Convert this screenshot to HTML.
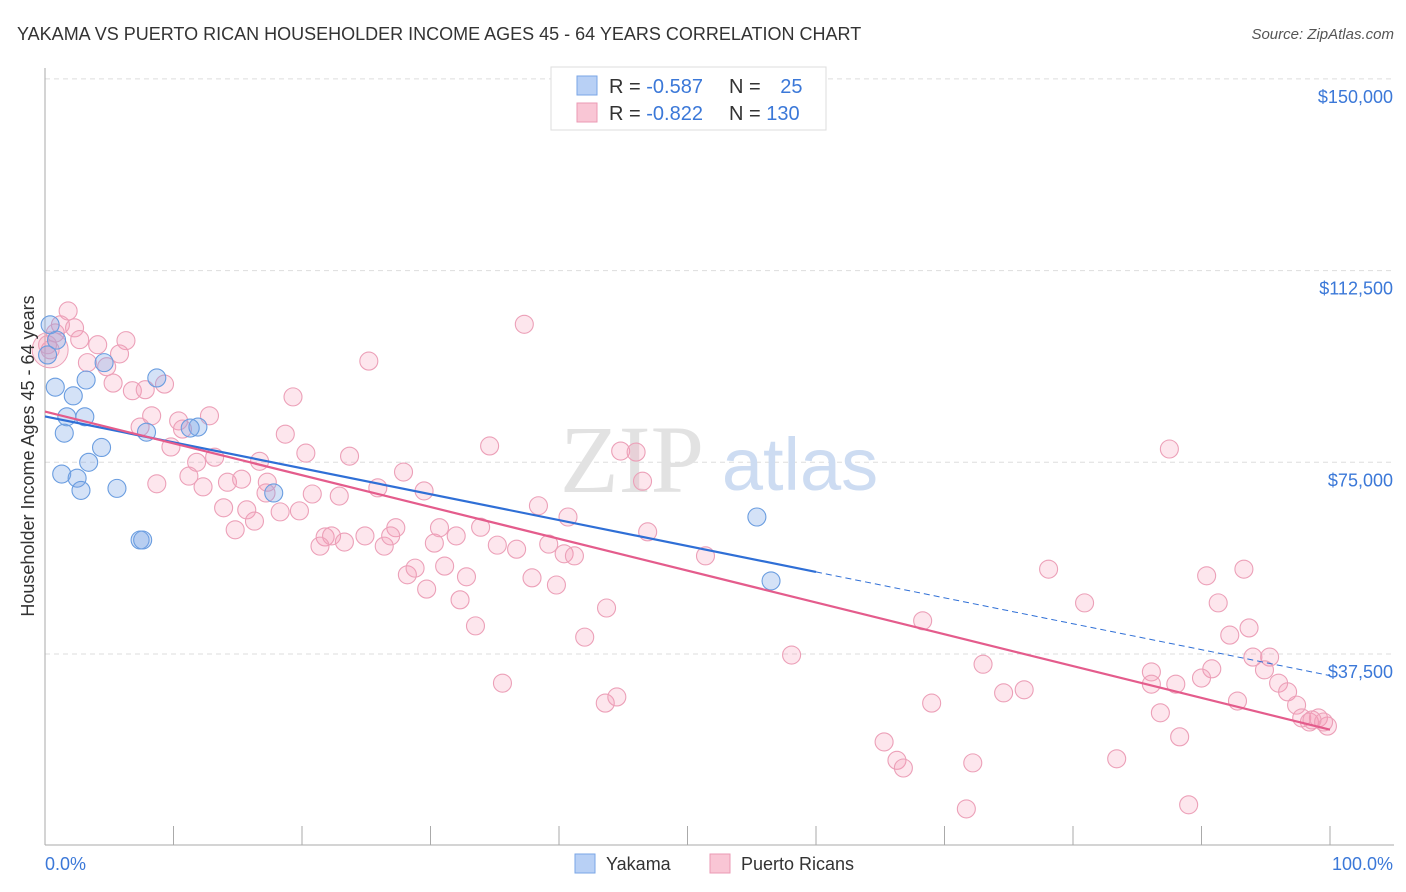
<!DOCTYPE html>
<html><head><meta charset="utf-8"><style>
body{margin:0;background:#fff;font-family:"Liberation Sans",sans-serif;}
svg{display:block}
</style></head><body>
<svg id="chart" width="1406" height="892">
<text x="17" y="40" font-size="18" fill="#333">YAKAMA VS PUERTO RICAN HOUSEHOLDER INCOME AGES 45 - 64 YEARS CORRELATION CHART</text>
<text x="1394" y="39" font-size="15" fill="#555" font-style="italic" text-anchor="end">Source: ZipAtlas.com</text>
<g id="grid"></g>
<g id="wm">
<text x="632" y="492" font-size="96" font-family="Liberation Serif,serif" fill="#e2e2e2" text-anchor="middle">ZIP</text>
<text x="800" y="490" font-size="74" fill="#cddcf2" text-anchor="middle">atlas</text>
</g>
<g id="pts"></g>
<g id="lines"></g>
<text transform="translate(34,456) rotate(-90)" font-size="18" fill="#333" text-anchor="middle">Householder Income Ages 45 - 64 years</text>
<text x="45" y="870" font-size="18" fill="#3b78d8">0.0%</text>
<text x="1393" y="870" font-size="18" fill="#3b78d8" text-anchor="end">100.0%</text>
<g>
<rect x="551" y="67" width="275" height="63" fill="#fff" stroke="#ddd"/>
<rect x="577" y="76" width="20" height="19" fill="#b8d0f5" stroke="#7aa6e6"/>
<rect x="577" y="103" width="20" height="19" fill="#f9c6d5" stroke="#eb9ab4"/>
<text x="609" y="93" font-size="20" fill="#333">R = <tspan fill="#3b78d8">-0.587</tspan></text>
<text x="729" y="93" font-size="20" fill="#333">N = <tspan fill="#3b78d8" dx="14">25</tspan></text>
<text x="609" y="120" font-size="20" fill="#333">R = <tspan fill="#3b78d8">-0.822</tspan></text>
<text x="729" y="120" font-size="20" fill="#333">N = <tspan fill="#3b78d8">130</tspan></text>
</g>
<g>
<rect x="575" y="854" width="20" height="19" fill="#b8d0f5" stroke="#7aa6e6"/>
<text x="606" y="870" font-size="18" fill="#333">Yakama</text>
<rect x="710" y="854" width="20" height="19" fill="#f9c6d5" stroke="#eb9ab4"/>
<text x="741" y="870" font-size="18" fill="#333">Puerto Ricans</text>
</g>
</svg>
<script>
const yTicks=[37500,75000,112500,150000];
const yTickLabels=["$37,500","$75,000","$112,500","$150,000"];
const xTicks=[0,10,20,30,40,50,60,70,80,90,100];
const yakamaX=[0.4,0.9,0.2,0.8,2.2,3.2,4.6,8.7,1.7,3.1,1.5,7.9,11.9,4.4,3.4,1.3,2.5,2.8,5.6,7.4,7.6,17.8,55.4,56.5,11.3];
const yakamaY=[101.9,98.9,96.0,89.7,88.0,91.1,94.5,91.5,83.9,83.9,80.7,80.9,81.9,77.9,75.0,72.7,71.9,69.5,69.9,59.8,59.8,69.0,64.3,51.8,81.7];
const prX=[1.8,1.2,2.3,0.8,0.4,2.7,4.1,6.3,5.8,3.3,4.8,5.3,6.8,7.8,9.3,19.3,25.2,37.3,8.3,10.4,12.8,7.4,10.7,9.8,11.8,13.2,16.7,18.7,20.3,23.7,34.6,44.8,46.0,87.5,8.7,11.2,12.3,14.2,15.3,17.3,17.2,20.8,22.9,25.9,29.5,27.9,13.9,15.7,16.3,14.8,18.3,19.8,21.8,22.3,21.4,23.3,24.9,26.4,27.3,26.9,30.3,30.7,32.0,33.9,35.2,36.7,38.4,40.7,39.2,40.4,41.2,46.9,51.4,46.5,28.2,28.8,31.1,32.8,37.9,39.8,29.7,32.3,33.5,43.7,42.0,35.6,43.6,44.5,58.1,68.3,69.0,65.3,66.3,66.8,72.2,71.7,73.0,74.6,76.2,78.1,80.9,83.4,86.1,86.1,86.8,88.0,88.3,89.0,90.4,91.3,93.3,92.2,93.7,90.8,90.0,92.8,94.0,95.3,94.9,96.0,96.7,97.4,97.8,98.4,99.1,99.8,99.5,98.6,0.2];
const prY=[104.6,101.9,101.3,100.3,97.0,99.0,98.0,98.8,96.2,94.5,93.7,90.5,89.0,89.2,90.3,87.8,94.8,102.0,84.1,83.1,84.1,81.9,81.5,78.0,75.0,76.0,75.2,80.5,76.8,76.2,78.2,77.2,77.0,77.6,70.8,72.3,70.2,71.1,71.7,71.1,69.0,68.8,68.4,70.0,69.4,73.1,66.1,65.7,63.5,61.8,65.3,65.5,60.4,60.6,58.6,59.4,60.6,58.6,62.2,60.6,59.2,62.2,60.6,62.3,58.8,58.0,66.5,64.3,59.0,57.1,56.7,61.4,56.7,71.3,53.0,54.3,54.7,52.6,52.4,51.0,50.2,48.1,43.0,46.5,40.8,31.8,27.9,29.1,37.3,44.0,27.9,20.3,16.7,15.2,16.2,7.2,35.5,29.9,30.5,54.1,47.5,17.0,34.0,31.6,26.0,31.6,21.3,8.0,52.8,47.5,54.1,41.2,42.6,34.6,32.8,28.3,36.9,36.9,34.4,31.8,30.1,27.5,25.0,24.2,25.0,23.4,24.2,24.6,98.0];

const NS="http://www.w3.org/2000/svg";
const X0=45,X1=1330,YB=845.7,PPK=191.7/37.5;
function sx(p){return X0+(X1-X0)*p/100;}
function sy(k){return YB-k*PPK;}
function mk(tag,attrs,parent){const e=document.createElementNS(NS,tag);for(const k in attrs)e.setAttribute(k,attrs[k]);parent.appendChild(e);return e;}
const grid=document.getElementById('grid');
yTicks.forEach((v,i)=>{
  const y=sy(v/1000);
  const l=mk('line',{x1:45,x2:1394,y1:y,y2:y,stroke:'#ddd','stroke-dasharray':'5,4'},grid);
  
  
  const t=mk('text',{x:1393,y:y+24,'font-size':18,fill:'#3b78d8','text-anchor':'end'},grid);
  t.textContent=yTickLabels[i];
  
  
});
const ax=mk('line',{x1:45,x2:45,y1:68,y2:845,stroke:'#aaa'},grid);


const bx=mk('line',{x1:45,x2:1394,y1:845,y2:845,stroke:'#aaa'},grid);


xTicks.forEach(p=>{
  const t=mk('line',{x1:sx(p),x2:sx(p),y1:826,y2:845,stroke:'#aaa'},grid);
  
  
});
const pts=document.getElementById('pts');
const big=mk('circle',{cx:sx(prX[4]),cy:sy(prY[4]),r:18,fill:'rgba(240,140,170,0.22)',stroke:'#eca0b8'},pts);


prX.forEach((x,i)=>{
  const c=mk('circle',{cx:sx(x),cy:sy(prY[i]),r:9,fill:'rgba(245,150,180,0.24)',stroke:'#eca0b8','stroke-width':1.1},pts);
  
  
});
yakamaX.forEach((x,i)=>{
  const c=mk('circle',{cx:sx(x),cy:sy(yakamaY[i]),r:9,fill:'rgba(120,165,230,0.32)',stroke:'#6a9de0','stroke-width':1.1},pts);
  
  
});
function fit(xs,ys){const n=xs.length;let mx=0,my=0;for(let i=0;i<n;i++){mx+=xs[i];my+=ys[i];}mx/=n;my/=n;let a=0,b=0;for(let i=0;i<n;i++){a+=(xs[i]-mx)*(ys[i]-my);b+=(xs[i]-mx)**2;}const s=a/b;return [my-s*mx,s];}
const lines=document.getElementById('lines');
const [bi,bs]=fit(yakamaX,yakamaY);
const xe=60;
const l1=mk('line',{x1:sx(0),y1:sy(bi),x2:sx(xe),y2:sy(bi+bs*xe),stroke:'#2f6fd6','stroke-width':2.2},lines);


const l2=mk('line',{x1:sx(xe),y1:sy(bi+bs*xe),x2:sx(100),y2:sy(bi+bs*100),stroke:'#2f6fd6','stroke-width':1,'stroke-dasharray':'6,4'},lines);


const [pi,ps]=fit(prX,prY);
const l3=mk('line',{x1:sx(0),y1:sy(pi),x2:sx(100),y2:sy(pi+ps*100),stroke:'#e45c8c','stroke-width':2.2},lines);


</script>
</body></html>
